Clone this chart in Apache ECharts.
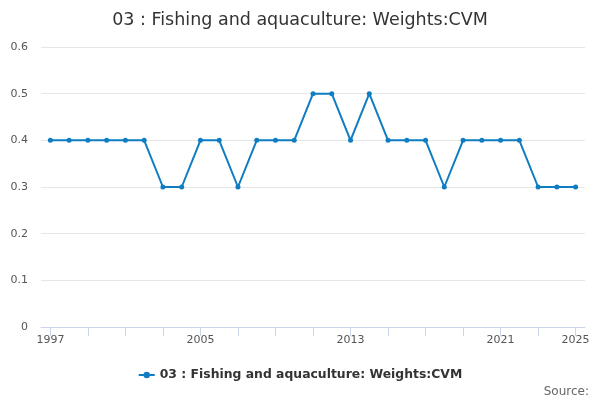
<!DOCTYPE html>
<html><head><meta charset="utf-8">
<script src="https://cdn.jsdelivr.net/npm/echarts@6/dist/echarts.min.js"></script>
<style>html,body{margin:0;padding:0;background:#fff}#c{width:600px;height:400px}</style>
</head><body><div id="c"></div>
<script>
const years = ['1997','1998','1999','2000','2001','2002','2003','2004','2005','2006','2007','2008','2009','2010','2011','2012','2013','2014','2015','2016','2017','2018','2019','2020','2021','2022','2023','2024','2025'];
const values = [0.4,0.4,0.4,0.4,0.4,0.4,0.3,0.3,0.4,0.4,0.3,0.4,0.4,0.4,0.5,0.5,0.4,0.5,0.4,0.4,0.4,0.3,0.4,0.4,0.4,0.4,0.3,0.3,0.3];
const shownLabels = ['1997','2005','2013','2021','2025'];
const seriesName = '03 : Fishing and aquaculture: Weights:CVM';
const titleText = '03 : Fishing and aquaculture: Weights:CVM';
const font = 'DejaVu Sans';
const chart = echarts.init(document.getElementById('c'));
chart.setOption({
  animation: false,
  title: [{
    text: titleText, left: 'center', top: 6,
    textStyle: {fontFamily: font, fontSize: 17.5, fontWeight: 'normal', color: '#333'}
  }, {
    text: 'Source:', right: 6, top: 381,
    textStyle: {fontFamily: font, fontSize: 12, fontWeight: 'normal', color: '#666'}
  }],
  legend: {
    data: [seriesName], bottom: 14, left: 'center', itemWidth: 16, itemHeight: 8, itemGap: 5,
    textStyle: {fontFamily: font, fontSize: 12.4, fontWeight: 'bold', color: '#333'}
  },
  grid: {left: 41, right: 15, top: 47, bottom: 73},
  xAxis: {
    type: 'category', data: years, boundaryGap: true,
    axisLine: {show: true, lineStyle: {color: '#ccd6eb'}},
    axisTick: {show: true, alignWithLabel: true, length: 9, lineStyle: {color: '#ccd6eb'}, interval: (i) => i % 2 === 0},
    axisLabel: {interval: (i, v) => shownLabels.indexOf(v) >= 0, fontFamily: font, fontSize: 11, color: '#555', margin: 8}
  },
  yAxis: {
    type: 'value', min: 0, max: 0.6, interval: 0.1,
    axisLabel: {fontFamily: font, fontSize: 11, color: '#555', margin: 13},
    splitLine: {lineStyle: {color: '#e6e6e6'}},
    axisLine: {show: false}, axisTick: {show: false}
  },
  series: [{
    name: seriesName, type: 'line', data: values,
    color: '#0f7dc2', lineStyle: {width: 2}, symbol: 'circle', symbolSize: 5, showSymbol: true
  }]
});
</script></body></html>
